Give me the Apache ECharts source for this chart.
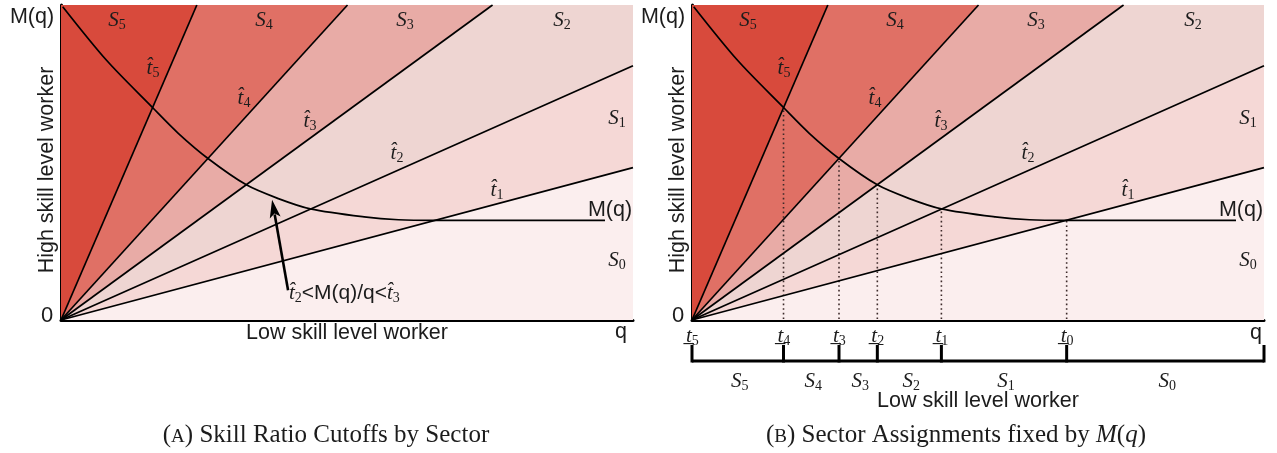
<!DOCTYPE html>
<html>
<head>
<meta charset="utf-8">
<script src="https://cdn.jsdelivr.net/npm/echarts@6/dist/echarts.min.js"></script>
<style>
html,body{margin:0;padding:0;background:#fff}
#c{width:1277px;height:453px}
</style>
</head>
<body>
<div id="c"></div>
<script>
// Skill-ratio cutoffs t̂1..t̂5: slopes of the rays from the origin (high / low skill)
const hatSlopes = [0.266, 0.444, 0.729, 1.098, 2.316];
// Sector indices, from the flattest band (S0) to the steepest (S5)
const sectors = [0, 1, 2, 3, 4, 5];
const sectorColors = ['#fbeeee', '#f5d8d6', '#eed5d2', '#e8aba6', '#e07065', '#d84a3c'];
// M(q): high-skill supply as a function of low-skill q
const mCurve = [
  [0.03, 5.47], [0.8, 4.53], [1.6, 3.71], [2.05, 3.26], [2.57, 2.82],
  [3.24, 2.36], [3.8, 2.12], [4.36, 1.94], [5.3, 1.8], [5.9, 1.75],
  [6.55, 1.74], [9.51, 1.74]
];
// Lower q cutoffs t_0..t_5 where M(q) crosses the rays
const lowCutoffs = [6.55, 4.36, 3.24, 2.57, 1.6, 0];
const X_MAX = 10, Y_MAX = 5.5;

const SERIF = '"Liberation Serif", "DejaVu Serif", serif';
const SANS = '"Liberation Sans", Arial, sans-serif';
const INK = '#1c1c1c';

const bounds = [0, ...hatSlopes, Infinity];

// Where a ray of slope m leaves the plotting box
function rayEnd(m) {
  if (!isFinite(m)) return [0, Y_MAX];
  return m * X_MAX <= Y_MAX ? [X_MAX, m * X_MAX] : [Y_MAX / m, Y_MAX];
}

const mathRich = {
  m: { fontFamily: SERIF, fontStyle: 'italic', fontSize: 21, lineHeight: 24, fill: INK },
  sub: { fontFamily: SERIF, fontSize: 14, lineHeight: 14, verticalAlign: 'bottom', fill: INK },
  sans: { fontFamily: SANS, fontSize: 21, lineHeight: 24, fill: INK },
  cap: { fontFamily: SERIF, fontSize: 25, lineHeight: 28, fill: INK },
  sc: { fontFamily: SERIF, fontSize: 19, lineHeight: 28, verticalAlign: 'bottom', padding: [0, 0, 2, 0], fill: INK },
  capi: { fontFamily: SERIF, fontStyle: 'italic', fontSize: 25, lineHeight: 28, fill: INK }
};
const S = k => `{m|S}{sub|${k}}`;
const HAT = k => `{m|t\u0302}{sub|${k}}`;
const LOW = k => `{m|t\u0332}{sub|${k}}`;

// ---- series ----
function wedgeSeries(g) {
  return {
    type: 'custom', xAxisIndex: g, yAxisIndex: g, silent: true, z: 1,
    data: sectors.map(k => [k]),
    renderItem(params, api) {
      const k = api.value(0);
      const a = rayEnd(bounds[k]), b = rayEnd(bounds[k + 1]);
      const pts = [[0, 0], a];
      if (a[0] === X_MAX && b[1] === Y_MAX && b[0] !== X_MAX) pts.push([X_MAX, Y_MAX]);
      pts.push(b);
      return { type: 'polygon', shape: { points: pts.map(p => api.coord(p)) }, style: { fill: sectorColors[k] } };
    }
  };
}
function raySeries(g) {
  return hatSlopes.map(m => ({
    type: 'line', xAxisIndex: g, yAxisIndex: g, silent: true, z: 3,
    data: [[0, 0], rayEnd(m)], symbol: 'none',
    lineStyle: { color: '#000', width: 1.7 }
  }));
}
function curveSeries(g) {
  return {
    type: 'line', xAxisIndex: g, yAxisIndex: g, silent: true, z: 4,
    data: mCurve, symbol: 'none', smooth: 0.3,
    lineStyle: { color: '#000', width: 1.7 }
  };
}

const series = [
  wedgeSeries(0), ...raySeries(0), curveSeries(0),
  wedgeSeries(1), ...raySeries(1), curveSeries(1),
  // arrow pointing at the S2 part of M(q)
  {
    type: 'custom', xAxisIndex: 0, yAxisIndex: 0, silent: true, z: 5,
    data: [[3.97, 0.52, 3.69, 2.1]],
    renderItem(params, api) {
      const p0 = api.coord([api.value(0), api.value(1)]);
      const p1 = api.coord([api.value(2), api.value(3)]);
      const dx = p1[0] - p0[0], dy = p1[1] - p0[1];
      const len = Math.hypot(dx, dy), ux = dx / len, uy = dy / len;
      const hl = 18, hw = 5.5;
      const bx = p1[0] - ux * hl, by = p1[1] - uy * hl;
      return {
        type: 'group', children: [
          { type: 'line', shape: { x1: p0[0], y1: p0[1], x2: bx + ux * 3, y2: by + uy * 3 }, style: { stroke: '#000', lineWidth: 2.6 } },
          { type: 'polygon', shape: { points: [p1, [bx - uy * hw, by + ux * hw], [bx + ux * 4, by + uy * 4], [bx + uy * hw, by - ux * hw]] }, style: { fill: '#000' } }
        ]
      };
    }
  },
  // dotted drops from M(q) to the q axis at t_0..t_4
  {
    type: 'custom', xAxisIndex: 1, yAxisIndex: 1, silent: true, z: 2,
    data: lowCutoffs.slice(0, 5).map((t, k) => [t, hatSlopes[k] * t]),
    renderItem(params, api) {
      const a = api.coord([api.value(0), 0]), b = api.coord([api.value(0), api.value(1)]);
      return { type: 'line', shape: { x1: a[0], y1: a[1] - 1, x2: b[0], y2: b[1] }, style: { stroke: '#3d2a2a', lineWidth: 1.6, lineDash: [1.6, 3] } };
    }
  },
  // bracket under panel B: base line
  {
    type: 'line', xAxisIndex: 2, yAxisIndex: 2, silent: true, clip: false,
    data: [[0, 0], [X_MAX, 0]], symbol: 'none',
    lineStyle: { color: '#000', width: 3 }
  },
  // bracket ticks with t_k labels above
  {
    type: 'custom', xAxisIndex: 2, yAxisIndex: 2, silent: true,
    data: [...lowCutoffs.map((t, k) => [t, k]), [X_MAX, -1]],
    renderItem(params, api) {
      const a = api.coord([api.value(0), 0]), b = api.coord([api.value(0), 1]);
      const k = api.value(1);
      const kids = [{ type: 'line', shape: { x1: a[0], y1: a[1] + 1.5, x2: b[0], y2: b[1] }, style: { stroke: '#000', lineWidth: 3 } }];
      if (k >= 0) kids.push({
        type: 'text', x: a[0] - 6, y: b[1] - 9,
        style: { text: LOW(k), rich: mathRich, align: 'left', verticalAlign: 'middle' }
      });
      return { type: 'group', children: kids };
    }
  },
  // sector names between consecutive cutoffs
  {
    type: 'custom', xAxisIndex: 2, yAxisIndex: 2, silent: true,
    data: sectors.map(k => [k === 0 ? (lowCutoffs[0] + X_MAX) / 2 : (lowCutoffs[k] + lowCutoffs[k - 1]) / 2, k]),
    renderItem(params, api) {
      const p = api.coord([api.value(0), 0]);
      return { type: 'text', x: p[0] + 2, y: p[1] + 20, style: { text: S(api.value(1)), rich: mathRich, align: 'center', verticalAlign: 'middle' } };
    }
  }
];

// ---- axes ----
const grids = [
  { left: 61, top: 5, width: 572, height: 315 },
  { left: 692, top: 5, width: 572, height: 315 },
  { left: 692, top: 345, width: 572, height: 16 }
];
const axisBase = g => ({
  gridIndex: g, type: 'value', min: 0,
  axisTick: { show: false }, axisLabel: { show: false }, splitLine: { show: false }
});
const xAxis = [0, 1].map(g => Object.assign(axisBase(g), {
  max: X_MAX, axisLine: { show: true, onZero: false, lineStyle: { color: '#000', width: 3 } }
}));
xAxis.push(Object.assign(axisBase(2), { max: X_MAX, show: false }));
const yAxis = [0, 1].map(g => Object.assign(axisBase(g), {
  max: Y_MAX, axisLine: { show: true, onZero: false, lineStyle: { color: '#000', width: 3 } }
}));
yAxis.push(Object.assign(axisBase(2), { max: 1, show: false }));

// ---- text ----
function txt(x, y, text, extra) {
  return Object.assign({
    type: 'text', x, y, silent: true, z: 100,
    style: { text, rich: mathRich, align: 'center', verticalAlign: 'middle', fill: INK, font: '21.5px ' + SANS }
  }, extra || {});
}
const graphic = [];
const DX = 631;
[0, 1].forEach(p => {
  const o = p * DX;
  graphic.push(
    txt(32 + o, 17, 'M(q)'),
    txt(47 + o, 316, '0', { style: { text: '0', align: 'center', verticalAlign: 'middle', fill: INK, font: '22px ' + SANS } }),
    txt(47 + o, 170, 'High skill level worker', { rotation: Math.PI / 2 }),
    txt(610 + o, 210, 'M(q)'),
    txt(117 + o, 20, S(5)), txt(264 + o, 20, S(4)), txt(405 + o, 20, S(3)),
    txt(562 + o, 20, S(2)), txt(617 + o, 118, S(1)), txt(617 + o, 260, S(0)),
    txt(153 + o, 68, HAT(5)), txt(244 + o, 98, HAT(4)), txt(310 + o, 121, HAT(3)),
    txt(397 + o, 153, HAT(2)), txt(497 + o, 190, HAT(1))
  );
});
graphic.push(
  txt(347, 333, 'Low skill level worker'),
  txt(621, 332, 'q'),
  txt(1256, 333, 'q'),
  txt(978, 401, 'Low skill level worker'),
  txt(289, 293, '', { style: { text: HAT(2) + '{sans|<M(q)/q<}' + HAT(3), rich: mathRich, align: 'left', verticalAlign: 'middle' } }),
  txt(326, 435, '{cap|(}{sc|A}{cap|) Skill Ratio Cutoffs by Sector}'),
  txt(956, 435, '{cap|(}{sc|B}{cap|) Sector Assignments fixed by }{capi|M}{cap|(}{capi|q}{cap|)}')
);

const chart = echarts.init(document.getElementById('c'), null, { renderer: 'canvas' });
chart.setOption({
  animation: false,
  backgroundColor: '#fff',
  grid: grids,
  xAxis, yAxis,
  series,
  graphic
});
</script>
</body>
</html>
